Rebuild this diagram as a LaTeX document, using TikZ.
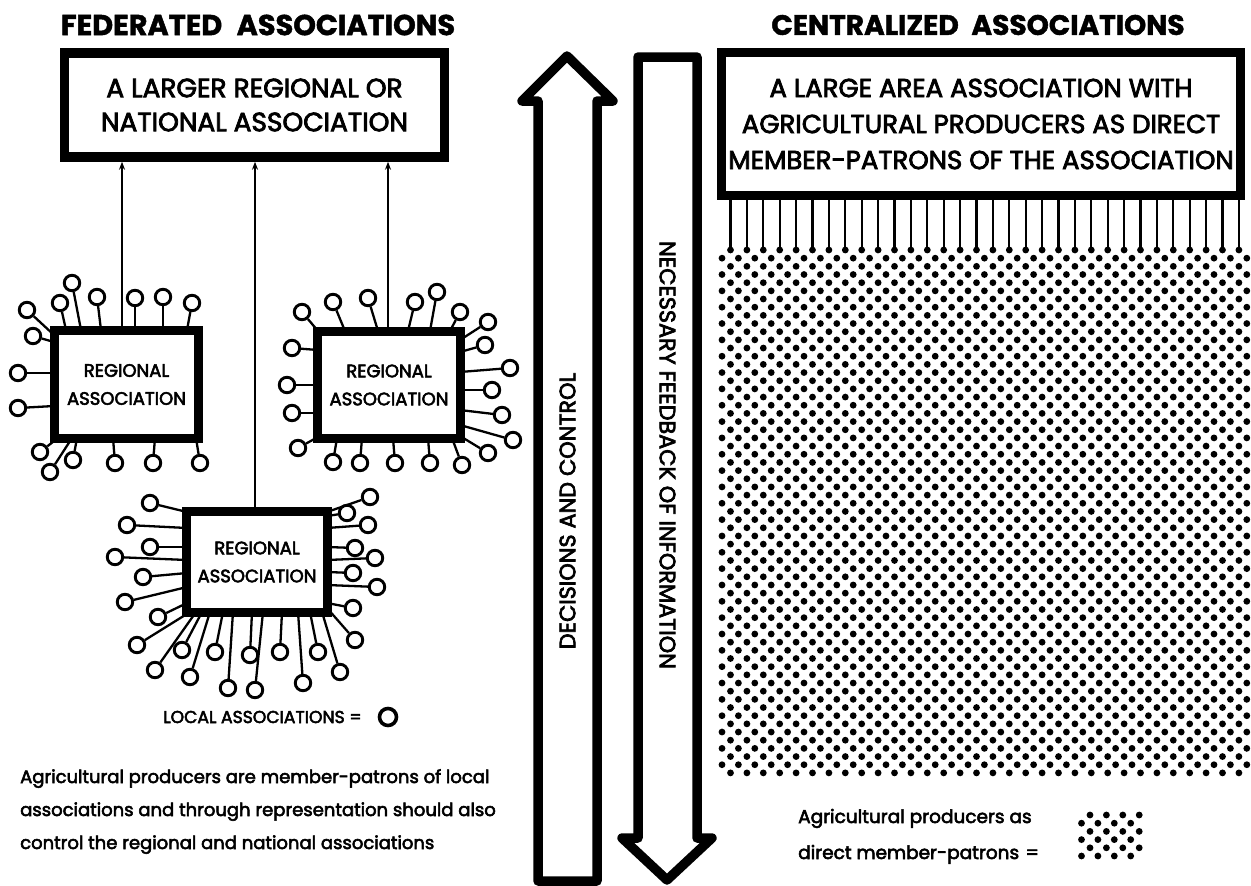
\documentclass[tikz,border=0pt]{standalone}
\usepackage{fontspec}
\setmainfont{Poppins}[BoldFeatures={FakeBold=1.5}]
\newfontfamily\medfont{Poppins}[FakeBold=3]
\usetikzlibrary{arrows.meta}
\tikzset{
  bigbox/.style={draw, line width=9.5pt, fill=white, inner sep=0pt, align=center, font=\medfont\fontsize{26.4}{34}\selectfont},
  regbox/.style={draw, line width=9pt, fill=white, inner sep=0pt, align=center, font=\medfont\fontsize{18}{28}\selectfont},
  loc/.style={circle, draw, line width=2.9pt, minimum size=15.5pt, inner sep=0pt, fill=white},
  link/.style={line width=2.3pt},
  feed/.style={line width=1.9pt, -{Stealth[length=8pt,width=6pt]}},
  bigarrow/.style={line width=9.5pt, line join=round, fill=white},
  heading/.style={font=\bfseries\fontsize{28.8}{30}\selectfont, inner sep=0pt},
  sidelabel/.style={font=\medfont\fontsize{22.3}{24}\selectfont, inner sep=0pt},
  body/.style={font=\medfont\fontsize{18}{33}\selectfont, anchor=base west, inner sep=0pt},
}
\begin{document}
\begin{tikzpicture}[x=1pt,y=-1pt]
\useasboundingbox (0,0) rectangle (1251,886);

% headings
\node[heading] (hfed) at (258,25) {FEDERATED\hspace{0.5em}ASSOCIATIONS};
\node[heading, font=\bfseries\fontsize{28.1}{30}\selectfont] (hcen) at (978,25) {CENTRALIZED\hspace{0.45em}ASSOCIATIONS};

% national box
\node[bigbox, minimum width=380pt, minimum height=104pt] (nat) at (254.5,105)
  {A LARGER REGIONAL OR\\NATIONAL ASSOCIATION};

% regional boxes
\node[regbox, minimum width=144pt, minimum height=108pt] (regA) at (126.5,384.5) {REGIONAL\\ASSOCIATION};
\node[regbox, minimum width=143pt, minimum height=107pt] (regB) at (389,385) {REGIONAL\\ASSOCIATION};
\node[regbox, minimum width=141pt, minimum height=101pt] (regC) at (257,562) {REGIONAL\\ASSOCIATION};

\coordinate (xa) at (122,0);
\coordinate (xb) at (388,0);
\coordinate (xc) at (255,0);
\draw[feed] (regA.north -| xa) -- (nat.south -| xa);
\draw[feed] (regB.north -| xb) -- (nat.south -| xb);
\draw[feed] (regC.north -| xc) -- (nat.south -| xc);

% local associations around box A
\foreach \cx/\cy/\ex/\ey [count=\i] in {
  72/283/81/330, 60/303/66/330, 27/310/54/335, 33/336/54/342, 18/373/54/373,
  18/408/54/406, 97/297/101/330, 135/298/135/330, 163/297/163/330, 192/303/187/330,
  40/452/58/438, 50/472/72/438, 73/460/77/438, 115/463/113/438, 153/463/155/438,
  200/463/196/438}{
  \coordinate (Ae\i) at (\ex,\ey);
  \node[loc] (A\i) at (\cx,\cy) {};
  \draw[link] (A\i) -- (Ae\i);
}
% around box B
\foreach \cx/\cy/\ex/\ey [count=\i] in {
  302/312/318/331, 333/302/345/331, 368/298/378/331, 415/302/408/331, 437/292/430/331,
  460/312/450/331, 488/322/460/340, 485/345/460/352, 510/368/460/372, 492/390/460/390,
  502/415/460/410, 513/440/460/425, 488/453/460/436, 292/348/318/350, 287/385/318/385,
  292/413/318/413, 298/448/318/437, 333/462/337/438, 360/463/362/438, 395/463/393/438,
  430/463/428/438, 462/465/452/438}{
  \coordinate (Be\i) at (\ex,\ey);
  \node[loc] (B\i) at (\cx,\cy) {};
  \draw[link] (B\i) -- (Be\i);
}
% around box C
\foreach \cx/\cy/\ex/\ey [count=\i] in {
  150/503/187/512, 127/525/187/528, 150/547/187/547, 115/557/187/560, 143/577/187/573,
  125/602/187/587, 158/617/187/603, 137/645/190/612, 155/670/196/612, 182/650/202/612,
  190/677/210/612, 215/652/223/612, 228/688/233/612, 250/655/252/612, 255/690/263/612,
  280/652/282/612, 303/683/298/612, 318/652/310/612, 340/672/322/612, 355/640/327/608,
  370/497/327/512, 347/513/327/516, 368/525/327/528, 355/548/327/547, 375/558/327/560,
  353/573/327/572, 377/587/327/585, 353/608/327/603}{
  \coordinate (Ce\i) at (\ex,\ey);
  \node[loc] (C\i) at (\cx,\cy) {};
  \draw[link] (C\i) -- (Ce\i);
}

% legend for local associations
\node[font=\medfont\fontsize{17.2}{20}\selectfont, anchor=base west, inner sep=0pt] (loclab) at (163,723) {LOCAL ASSOCIATIONS =};
\node[circle, draw, line width=3.6pt, minimum size=17pt, inner sep=0pt] (locsym) at (388,717) {};

% paragraph
\node[body] (p1) at (20,783) {Agricultural producers are member-patrons of local};
\node[body] (p2) at (20,816) {associations and through representation should also};
\node[body] (p3) at (20,849) {control the regional and national associations};

% big arrows
\draw[bigarrow] (538,881) -- (538,101) -- (522,101) -- (567,56) -- (613,101) -- (597,101) -- (597,881) -- cycle;
\draw[bigarrow] (638,57) -- (638,838) -- (622,838) -- (667,880) -- (712,838) -- (697,838) -- (697,57) -- cycle;
\node[sidelabel, rotate=90] (dec) at (567.5,511) {DECISIONS AND CONTROL};
\node[sidelabel, rotate=-90] (nec) at (667.5,455) {NECESSARY FEEDBACK OF INFORMATION};

% centralized box
\node[bigbox, minimum width=519pt, minimum height=143pt, font=\medfont\fontsize{26}{36}\selectfont] (cen) at (981,124)
  {A LARGE AREA ASSOCIATION WITH\\AGRICULTURAL PRODUCERS AS DIRECT\\MEMBER-PATRONS OF THE ASSOCIATION};

% direct members: lines and dot field
\foreach \k in {0,...,31}{
  \coordinate (t\k) at (730.5+\k*16.4,250);
  \draw[link] (cen.south -| t\k) -- (t\k);
}
\foreach \j in {0,...,64}{
  \pgfmathtruncatemacro{\pr}{mod(\j,2)}
  \ifnum\pr=0
    \fill \foreach \k in {0,...,31}{ (730.5+\k*16.4,250+\j*8.17) circle[radius=3.4] };
  \else
    \fill \foreach \k in {0,...,32}{ (722+\k*16.4,250+\j*8.17) circle[radius=3.4] };
  \fi
}

% legend for direct members
\node[body, font=\medfont\fontsize{18.5}{33}\selectfont] (l1) at (798,823) {Agricultural producers as};
\node[body, font=\medfont\fontsize{18.5}{33}\selectfont] (l2) at (798,859) {direct member-patrons\hspace{0.35em}=};
\foreach \j in {0,...,5}{
  \pgfmathtruncatemacro{\pr}{mod(\j,2)}
  \ifnum\pr=0
    \fill \foreach \k in {0,...,3}{ (1090+\k*16.4,815+\j*8.2) circle[radius=3.4] };
  \else
    \fill \foreach \k in {0,...,3}{ (1081.5+\k*16.4,815+\j*8.2) circle[radius=3.4] };
  \fi
}
\end{tikzpicture}
\end{document}
